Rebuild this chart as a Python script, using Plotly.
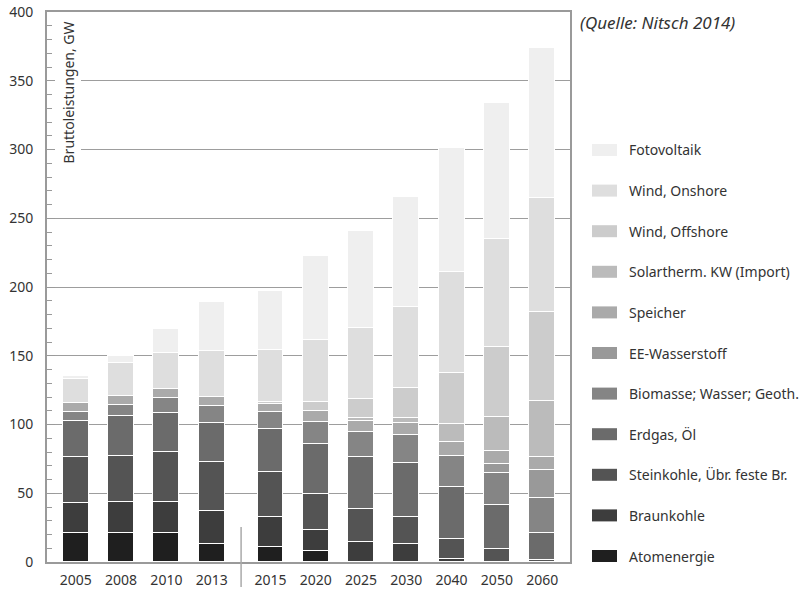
import plotly.graph_objects as go

# ---- data (GW) ----
years = ["2005", "2008", "2010", "2013", "2015", "2020", "2025", "2030", "2040", "2050", "2060"]

atomenergie   = [21.0, 21.0, 21.0, 12.8, 11.2, 8.0, 0, 0, 0, 0, 0]
braunkohle    = [22.0, 22.4, 22.9, 24.3, 21.8, 15.3, 14.3, 13.1, 2.2, 0, 0]
steinkohle    = [33.5, 33.7, 35.9, 35.9, 32.7, 26.2, 24.0, 19.9, 14.3, 9.5, 1.5]
erdgas_oel    = [26.0, 29.0, 28.8, 28.3, 30.8, 36.3, 37.8, 39.2, 38.3, 32.0, 19.3]
biomasse      = [6.3, 8.0, 10.4, 12.2, 12.3, 16.2, 18.7, 20.2, 22.3, 23.5, 25.5]
ee_wasserstoff = [0, 0, 0, 0, 0, 0, 0, 0, 0, 6.0, 20.6]
speicher      = [6.6, 6.5, 6.8, 6.3, 5.9, 8.0, 8.0, 8.5, 10.4, 10.0, 9.7]
solartherm    = [0, 0, 0, 0, 0, 0, 1.7, 3.6, 12.9, 24.7, 40.7]
wind_offshore = [0, 0, 0, 0, 1.9, 6.6, 13.8, 21.8, 37.3, 50.9, 64.7]
wind_onshore  = [17.7, 23.8, 26.4, 33.7, 37.6, 44.9, 51.7, 59.4, 73.2, 78.1, 82.5]
fotovoltaik   = [2.4, 5.3, 17.3, 35.8, 42.9, 61.3, 71.0, 79.5, 90.4, 99.1, 109.3]

series_names = ["Atomenergie", "Braunkohle", "Steinkohle, Übr. feste Br.", "Erdgas, Öl",
                "Biomasse; Wasser; Geoth.", "EE-Wasserstoff", "Speicher",
                "Solartherm. KW (Import)", "Wind, Offshore", "Wind, Onshore", "Fotovoltaik"]
series_values = [atomenergie, braunkohle, steinkohle, erdgas_oel, biomasse, ee_wasserstoff,
                 speicher, solartherm, wind_offshore, wind_onshore, fotovoltaik]
y_ticks = [0, 50, 100, 150, 200, 250, 300, 350, 400]

# ---- styling ----
colors = ["#1f1f1f", "#3d3d3d", "#545454", "#6b6b6b", "#858585", "#999999",
          "#aaaaaa", "#bbbbbb", "#cccccc", "#dedede", "#efefef"]
FONT = "Noto Sans"
TXT = "#333333"

# bar positions: a small extra gap between historic (until 2013) and scenario years
positions = [i + (0.3 if i >= 4 else 0.0) for i in range(len(years))]

W, H = 811, 590
L, T = 47, 12
R = W - 570
B = H - 562
X0, X1, Y0, Y1 = L, W - R, T, H - B


def px(x):  # screen x -> paper
    return (x - X0) / (X1 - X0)


def py(y):  # screen y -> paper
    return (Y1 - y) / (Y1 - Y0)


fig = go.Figure()
for name, vals, col in zip(series_names, series_values, colors):
    fig.add_trace(go.Bar(
        x=positions, y=[v if v else None for v in vals], name=name,
        marker=dict(color=col, line=dict(color="white", width=1.2)),
        width=0.57, showlegend=False,
    ))

shapes = []
annotations = []

# separator between historic and scenario years
shapes.append(dict(type="line", xref="x", yref="paper", x0=3.65, x1=3.65,
                   y0=py(587), y1=py(527), line=dict(color="#aaaaaa", width=1.5)))

# manual legend (top = Fotovoltaik)
leg_top, leg_step = 150, 40.6
for k, (name, col) in enumerate(zip(series_names[::-1], colors[::-1])):
    yc = leg_top + k * leg_step
    shapes.append(dict(type="rect", xref="paper", yref="paper",
                       x0=px(592), x1=px(617), y0=py(yc + 6), y1=py(yc - 6),
                       fillcolor=col, line=dict(width=0)))
    annotations.append(dict(xref="paper", yref="paper", x=px(627), y=py(yc),
                            xanchor="left", yanchor="middle", text=name, showarrow=False,
                            font=dict(family=FONT, size=14, color=TXT)))

# source note
annotations.append(dict(xref="paper", yref="paper", x=px(578), y=py(22),
                        xanchor="left", yanchor="middle", text="<i>(Quelle: Nitsch 2014)</i>",
                        showarrow=False, font=dict(family=FONT, size=17, color=TXT)))

# y-axis title inside the plot
annotations.append(dict(xref="paper", yref="paper", x=px(68.5), y=py(18),
                        xanchor="center", yanchor="top", text="Bruttoleistungen, GW",
                        textangle=-90, showarrow=False, bgcolor="white", borderpad=3,
                        font=dict(family=FONT, size=14, color=TXT)))

fig.update_layout(
    width=W, height=H,
    margin=dict(l=L, r=R, t=T, b=B, autoexpand=False),
    barmode="stack", bargap=0,
    plot_bgcolor="white", paper_bgcolor="white",
    font=dict(family=FONT, size=14, color=TXT),
    shapes=shapes, annotations=annotations,
    xaxis=dict(range=[-0.637, 10.915], tickvals=positions, ticktext=years,
               automargin=False, ticklabelstandoff=4,
               showline=True, mirror=True, linecolor="#9a9a9a", linewidth=2,
               showgrid=False, zeroline=False, ticks="",
               tickfont=dict(family=FONT, size=14, color=TXT)),
    yaxis=dict(range=[0, 400], tickvals=y_ticks, automargin=False,
               ticklabeloverflow="allow",
               showline=True, mirror=True, linecolor="#9a9a9a", linewidth=2,
               showgrid=True, gridcolor="#9d9d9d", gridwidth=1, zeroline=False,
               ticks="inside", ticklen=8, tickcolor="#9a9a9a", tickwidth=1,
               ticklabelstandoff=9,
               minor=dict(dtick=10, ticks="inside", ticklen=5, tickcolor="#9a9a9a",
                          showgrid=False),
               tickfont=dict(family=FONT, size=14, color=TXT)),
)

# remove the browser's default 8px page margin so the figure fills the window
fig.write_html("out.html",
               config={"displayModeBar": False},
               post_script="document.body.style.margin='0';document.body.style.overflow='hidden';")
